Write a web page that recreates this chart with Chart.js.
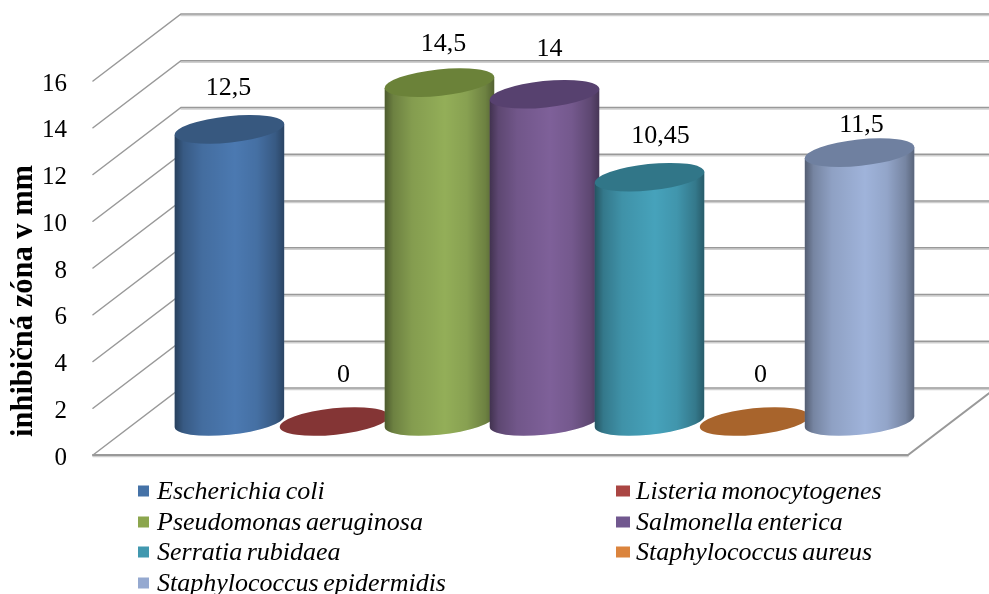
<!DOCTYPE html>
<html>
<head>
<meta charset="utf-8">
<style>
  html, body { margin: 0; padding: 0; background: #fff; }
  #wrap { position: relative; width: 989px; height: 594px; overflow: hidden; }
</style>
<script src="https://cdn.jsdelivr.net/npm/chart.js@4/dist/chart.umd.min.js"></script>
</head>
<body>
<div id="wrap"><canvas id="chart" width="989" height="594"></canvas></div>
<script>
// inhibition zones per bacterial species, drawn as 3D cylinders on a bar chart's scales

const species = [
    'Escherichia coli',
    'Listeria monocytogenes',
    'Pseudomonas aeruginosa',
    'Salmonella enterica',
    'Serratia rubidaea',
    'Staphylococcus aureus',
    'Staphylococcus epidermidis',
];
const zones = [12.5, 0, 14.5, 14, 10.45, 0, 11.5];
const yTicks = [0, 2, 4, 6, 8, 10, 12, 14, 16];
const yTitle = 'inhibičná zóna v mm';

const bodyColor = ['#4b79b1', '#a04a47', '#93ae58', '#7e6099', '#46a2bb', '#d9843f', '#9fb3da'];
const capColor  = ['#37587f', '#843535', '#6b8239', '#57416f', '#317688', '#a8642c', '#6f80a0'];
const swatch    = ['#4572a7', '#aa4643', '#8ca64e', '#71588f', '#4198af', '#db843d', '#95a9d0'];

// hand placed data labels, relative to the cylinder top
const labelDx = [-1, 9, 4, 5, 11, 6, 2];
const labelDy = [-41, -46, -38, -45, -41, -46, -28];

const SERIF = '"Liberation Serif", "Times New Roman", serif';

// depth of the floor in pixels
const DEPTH_X = 88;
const DEPTH_Y = -67;

// ---- back wall, side wall and floor ----
function drawWalls(chart) {
    const { ctx, chartArea: area, scales: { y } } = chart;
    const backLeft = area.left + DEPTH_X;
    const backRight = area.right + DEPTH_X;

    ctx.save();
    ctx.lineCap = 'round';
    yTicks.forEach(t => {
        const py = y.getPixelForValue(t);
        const by = py + DEPTH_Y;

        ctx.strokeStyle = '#cfcfcf';
        ctx.lineWidth = 1.5;
        ctx.beginPath();
        ctx.moveTo(backLeft, by + 1.5);
        ctx.lineTo(backRight, by + 1.5);
        ctx.stroke();

        ctx.strokeStyle = '#999';
        ctx.lineWidth = 1.5;
        ctx.beginPath();
        ctx.moveTo(area.left, py);
        ctx.lineTo(backLeft, by);
        ctx.lineTo(backRight, by);
        ctx.stroke();
    });

    // front and right edges of the floor
    const y0 = y.getPixelForValue(0);
    ctx.strokeStyle = '#cfcfcf';
    ctx.lineWidth = 1.5;
    ctx.beginPath();
    ctx.moveTo(area.left, y0 + 1.5);
    ctx.lineTo(area.right, y0 + 1.5);
    ctx.stroke();
    ctx.strokeStyle = '#999';
    ctx.lineWidth = 2;
    ctx.beginPath();
    ctx.moveTo(area.left, y0);
    ctx.lineTo(area.right, y0);
    ctx.lineTo(backRight, y0 + DEPTH_Y);
    ctx.stroke();
    ctx.restore();
}

// ---- one tilted cylinder, sits halfway into the floor ----
function drawCylinder(ctx, bar, i) {
    const cx = bar.x + DEPTH_X / 2;
    const baseY = bar.base + DEPTH_Y / 2;
    const topY = bar.y + DEPTH_Y / 2;
    const a = bar.width * 0.524;
    const b = 13.2;
    const tilt = -0.105;

    // tangent points of the ellipse on its left and right side
    const halfW = Math.sqrt(a * a * Math.cos(tilt) ** 2 + b * b * Math.sin(tilt) ** 2);
    const tanDy = (a * a - b * b) * Math.sin(-tilt) * Math.cos(tilt) / halfW;
    const tanAngle = Math.atan((b / a) * Math.tan(tilt));

    if (zones[i] > 0) {
        ctx.beginPath();
        ctx.moveTo(cx - halfW, topY + tanDy);
        ctx.lineTo(cx - halfW, baseY + tanDy);
        ctx.ellipse(cx, baseY, a, b, tilt, Math.PI - tanAngle, tanAngle, true);
        ctx.lineTo(cx + halfW, topY - tanDy);
        ctx.closePath();
        ctx.fillStyle = bodyColor[i];
        ctx.fill();

        // shading around the cylinder, brightest a little right of the middle
        const shade = ctx.createLinearGradient(cx - halfW, 0, cx + halfW, 0);
        shade.addColorStop(0, 'rgba(0,0,0,0.48)');
        shade.addColorStop(0.08, 'rgba(0,0,0,0.26)');
        shade.addColorStop(0.25, 'rgba(0,0,0,0.1)');
        shade.addColorStop(0.55, 'rgba(0,0,0,0)');
        shade.addColorStop(0.75, 'rgba(0,0,0,0.08)');
        shade.addColorStop(0.92, 'rgba(0,0,0,0.26)');
        shade.addColorStop(1, 'rgba(0,0,0,0.44)');
        ctx.fillStyle = shade;
        ctx.fill();
    }

    ctx.fillStyle = capColor[i];
    ctx.beginPath();
    ctx.ellipse(cx, topY, a, b, tilt, 0, Math.PI * 2);
    ctx.fill();
}

// ---- legend in two columns under the floor ----
function drawLegend(ctx) {
    const swatchX = [138, 616];
    const swatchW = [11, 14];
    const textX = [157, 636];
    const rows = [491, 522, 552, 583];
    ctx.save();
    ctx.font = 'italic 26px ' + SERIF;
    ctx.wordSpacing = '-2px';
    ctx.textBaseline = 'middle';
    ctx.textAlign = 'left';
    species.forEach((name, i) => {
        const col = i % 2;
        const y = rows[Math.floor(i / 2)];
        ctx.fillStyle = swatch[i];
        ctx.fillRect(swatchX[col], y - 5.5, swatchW[col], 11);
        ctx.fillStyle = '#000';
        ctx.fillText(name, textX[col], y + 1);
    });
    ctx.restore();
}

const cylinderPlugin = {
    id: 'cylinders',
    beforeDatasetsDraw(chart) {
        drawWalls(chart);
    },
    afterDatasetsDraw(chart) {
        const ctx = chart.ctx;
        species.forEach((_, i) => drawCylinder(ctx, chart.getDatasetMeta(i).data[0], i));

        // value labels use a decimal comma
        ctx.save();
        ctx.font = '26px ' + SERIF;
        ctx.fillStyle = '#000';
        ctx.textAlign = 'center';
        ctx.textBaseline = 'middle';
        species.forEach((_, i) => {
            const bar = chart.getDatasetMeta(i).data[0];
            const text = String(zones[i]).replace('.', ',');
            ctx.fillText(text, bar.x + DEPTH_X / 2 + labelDx[i], bar.y + DEPTH_Y / 2 + labelDy[i]);
        });

        // axis title
        ctx.translate(24, 301);
        ctx.rotate(-Math.PI / 2);
        ctx.font = 'bold 30.5px ' + SERIF;
        ctx.fillText(yTitle, 0, 0);
        ctx.restore();

        drawLegend(ctx);
    },
};

new Chart(document.getElementById('chart'), {
    type: 'bar',
    data: {
        labels: [''],
        datasets: species.map((name, i) => ({
            label: name,
            data: [zones[i]],
            backgroundColor: 'transparent',
            borderWidth: 0,
            categoryPercentage: 0.902,
            barPercentage: 1,
        })),
    },
    options: {
        responsive: false,
        animation: false,
        layout: { padding: { left: 0, top: 81, right: 81, bottom: 139 } },
        plugins: { legend: { display: false }, tooltip: { enabled: false } },
        scales: {
            x: { display: false },
            y: {
                min: 0,
                max: 16,
                afterFit(scale) { scale.width = 93; },
                border: { display: false },
                grid: { display: false, tickLength: 0 },
                ticks: {
                    stepSize: 2,
                    padding: 26,
                    labelOffset: 3,
                    color: '#000',
                    font: { family: SERIF, size: 25 },
                },
            },
        },
    },
    plugins: [cylinderPlugin],
});
</script>
</body>
</html>
